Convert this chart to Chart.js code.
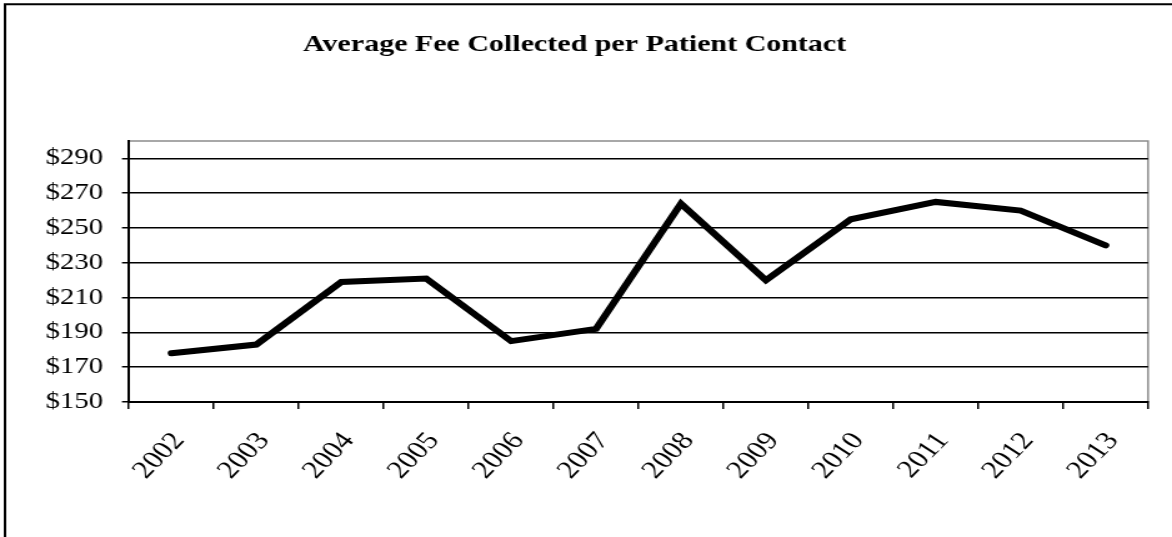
<!DOCTYPE html>
<html><head><meta charset="utf-8">
<script src="https://cdn.jsdelivr.net/npm/chart.js@4/dist/chart.umd.min.js"></script>
<style>
html,body{margin:0;padding:0;background:#fff;overflow:hidden;}
#wrap{width:1172px;height:537px;overflow:hidden;position:relative;}
canvas{display:block;position:absolute;left:0;top:0;transform:scaleX(1.2495);transform-origin:0 0;}
</style>
</head><body>
<div id="wrap"><canvas id="c" width="938" height="537"></canvas></div>
<script>
const chartTitle = 'Average Fee Collected per Patient Contact';
const years = ['2002','2003','2004','2005','2006','2007','2008','2009','2010','2011','2012','2013'];
const fees = [178, 183, 219, 221, 185, 192, 264, 220, 255, 265, 260, 240];
const yTicks = [150, 170, 190, 210, 230, 250, 270, 290];
const yMin = 150, yMax = 300;

const FONT = "'Liberation Serif', 'Times New Roman', serif";

const frame = {
  id: 'frame',
  beforeDraw(chart) {
    const ctx = chart.ctx, a = chart.chartArea;
    ctx.save();
    ctx.fillStyle = '#fff';
    ctx.fillRect(0, 0, chart.width, chart.height);
    ctx.strokeStyle = '#8c8c8c';
    ctx.lineWidth = 1.5;
    ctx.strokeRect(a.left, a.top, a.right - a.left, a.bottom - a.top);
    ctx.strokeStyle = '#000';
    ctx.lineWidth = 2;
    ctx.beginPath();
    ctx.moveTo(4, chart.height);
    ctx.lineTo(4, 4.3);
    ctx.lineTo(chart.width, 4.3);
    ctx.stroke();
    ctx.restore();
  }
};

new Chart(document.getElementById('c'), {
  type: 'line',
  data: {
    labels: years,
    datasets: [{
      data: fees,
      borderColor: '#000',
      borderWidth: 6,
      pointRadius: 0,
      tension: 0,
      fill: false,
      borderJoinStyle: 'miter',
      borderCapStyle: 'round'
    }]
  },
  options: {
    responsive: false,
    animation: false,
    devicePixelRatio: 1,
    layout: { padding: { left: 1, right: 19.2, top: 0, bottom: 0 } },
    plugins: {
      legend: { display: false },
      tooltip: { enabled: false },
      title: {
        display: true,
        text: chartTitle,
        color: '#000',
        font: { family: FONT, size: 24, weight: 'bold' },
        padding: { top: 30, bottom: 82.2 }
      }
    },
    scales: {
      x: {
        offset: true,
        grid: { offset: true, drawOnChartArea: false, drawTicks: true, tickLength: 7, color: '#000', lineWidth: 1.5 },
        border: { display: true, color: '#000', width: 2 },
        ticks: { color: '#000', font: { family: FONT, size: 25 }, minRotation: 51, maxRotation: 51, autoSkip: false, padding: 18, labelOffset: 6 },
        afterFit(s) { s.height = 135; }
      },
      y: {
        min: yMin,
        max: yMax,
        afterBuildTicks(s) { s.ticks = yTicks.map(v => ({ value: v })); },
        grid: { color: '#000', lineWidth: 1.5, tickLength: 5.6 },
        border: { display: true, color: '#000', width: 2 },
        ticks: { color: '#000', padding: 15.2, font: { family: FONT, size: 23 }, callback: v => '$' + v },
        afterFit(s) { s.width = 102.2; }
      }
    }
  },
  plugins: [frame]
});
</script>
</body></html>
